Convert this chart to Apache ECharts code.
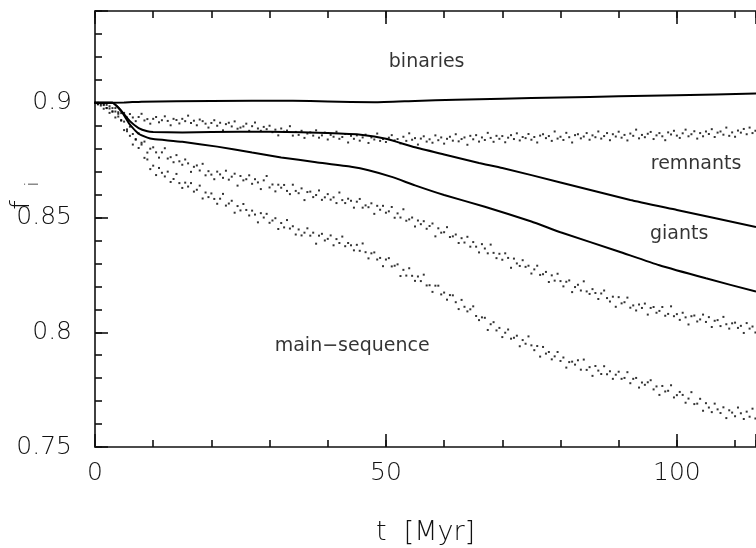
<!DOCTYPE html>
<html>
<head>
<meta charset="utf-8">
<script src="https://cdn.jsdelivr.net/npm/echarts@6/dist/echarts.min.js"></script>
<style>
html,body{margin:0;padding:0;background:#fff;}
#chart{width:756px;height:548px;}
</style>
</head>
<body>
<div id="chart"></div>
<script>
// ---------------- data ----------------
// solid curves
const binT = [0, 5, 8, 20, 34, 40, 48, 55, 62, 70, 80, 90, 100, 113.6];
const binF = [0.9, 0.9001, 0.9005, 0.9008, 0.9009, 0.9006, 0.9002, 0.9008, 0.9013, 0.9018, 0.9023, 0.9028, 0.9033, 0.9040];

const remT = [0, 3, 4.5, 6, 7.5, 9, 10, 15, 20, 30, 40, 46, 50, 55, 60, 66, 70, 80, 92, 100, 113.6];
const remF = [0.9, 0.9, 0.8965, 0.892, 0.889, 0.8876, 0.8873, 0.8871, 0.8873, 0.8874, 0.8868, 0.886, 0.8843, 0.8806, 0.8775, 0.8738, 0.8716, 0.8653, 0.8576, 0.8533, 0.8459];

const giaT = [0, 3, 4.5, 6, 7.5, 9, 10, 15, 21, 27, 32, 38, 44, 47, 51, 55, 60, 67, 75, 80, 90, 97, 105, 113.6];
const giaF = [0.9, 0.9, 0.8965, 0.8905, 0.8865, 0.8848, 0.8842, 0.8830, 0.8809, 0.8783, 0.8762, 0.8741, 0.8721, 0.8706, 0.8677, 0.8640, 0.8598, 0.8547, 0.8483, 0.8436, 0.8352, 0.8292, 0.8235, 0.8177];

// dotted (sampled) curves, times in Myr
const dotT = [
0,0.5,1,1.5,2,2.5,3,3.5,4,4.5,
5,5.5,6,6.5,7,7.5,8,8.5,9,9.5,
10,10.5,11,11.5,12,12.5,13,13.5,14,14.5,
15,15.5,16,16.5,17,17.5,18,18.5,19,19.5,
20,20.5,21,21.5,22,22.5,23,23.5,24,24.5,
25,25.5,26,26.5,27,27.5,28,28.5,29,29.5,
30,30.5,31,31.5,32,32.5,33,33.5,34,34.5,
35,35.5,36,36.5,37,37.5,38,38.5,39,39.5,
40,40.5,41,41.5,42,42.5,43,43.5,44,44.5,
45,45.5,46,46.5,47,47.5,48,48.5,49,49.5,
50,50.5,51,51.5,52,52.5,53,53.5,54,54.5,
55,55.5,56,56.5,57,57.5,58,58.5,59,59.5,
60,60.5,61,61.5,62,62.5,63,63.5,64,64.5,
65,65.5,66,66.5,67,67.5,68,68.5,69,69.5,
70,70.5,71,71.5,72,72.5,73,73.5,74,74.5,
75,75.5,76,76.5,77,77.5,78,78.5,79,79.5,
80,80.5,81,81.5,82,82.5,83,83.5,84,84.5,
85,85.5,86,86.5,87,87.5,88,88.5,89,89.5,
90,90.5,91,91.5,92,92.5,93,93.5,94,94.5,
95,95.5,96,96.5,97,97.5,98,98.5,99,99.5,
100,100.5,101,101.5,102,102.5,103,103.5,104,104.5,
105,105.5,106,106.5,107,107.5,108,108.5,109,109.5,
110,110.5,111,111.5,112,112.5,113,113.5
];

const dotsA = [
0.9000,0.8995,0.8999,0.8990,0.8991,0.8975,0.8977,0.8977,0.8952,0.8955,
0.8956,0.8936,0.8951,0.8936,0.8920,0.8938,0.8952,0.8923,0.8929,0.8909,
0.8930,0.8938,0.8915,0.8924,0.8941,0.8921,0.8902,0.8930,0.8925,0.8910,
0.8930,0.8920,0.8944,0.8912,0.8922,0.8902,0.8927,0.8920,0.8909,0.8892,
0.8912,0.8924,0.8900,0.8913,0.8880,0.8907,0.8913,0.8897,0.8919,0.8887,
0.8892,0.8897,0.8909,0.8878,0.8898,0.8914,0.8888,0.8878,0.8895,0.8885,
0.8900,0.8872,0.8883,0.8858,0.8888,0.8874,0.8879,0.8898,0.8857,0.8873,
0.8860,0.8878,0.8847,0.8866,0.8871,0.8857,0.8880,0.8848,0.8858,0.8870,
0.8840,0.8860,0.8852,0.8874,0.8843,0.8851,0.8864,0.8827,0.8856,0.8843,
0.8858,0.8835,0.8849,0.8861,0.8825,0.8849,0.8840,0.8866,0.8834,0.8842,
0.8829,0.8848,0.8859,0.8836,0.8842,0.8823,0.8852,0.8834,0.8867,0.8839,
0.8846,0.8818,0.8844,0.8854,0.8831,0.8841,0.8826,0.8858,0.8837,0.8849,
0.8822,0.8843,0.8852,0.8835,0.8863,0.8832,0.8842,0.8849,0.8817,0.8856,
0.8841,0.8859,0.8831,0.8849,0.8838,0.8869,0.8847,0.8830,0.8856,0.8843,
0.8855,0.8828,0.8848,0.8859,0.8842,0.8867,0.8836,0.8851,0.8846,0.8864,
0.8839,0.8851,0.8827,0.8857,0.8863,0.8846,0.8855,0.8834,0.8875,0.8844,
0.8852,0.8838,0.8869,0.8850,0.8827,0.8859,0.8863,0.8845,0.8853,0.8868,
0.8839,0.8858,0.8850,0.8875,0.8844,0.8855,0.8868,0.8837,0.8863,0.8853,
0.8874,0.8848,0.8860,0.8836,0.8866,0.8856,0.8883,0.8845,0.8860,0.8850,
0.8865,0.8873,0.8842,0.8858,0.8868,0.8854,0.8837,0.8871,0.8862,0.8878,
0.8857,0.8847,0.8867,0.8883,0.8854,0.8863,0.8876,0.8844,0.8868,0.8854,
0.8875,0.8864,0.8885,0.8851,0.8870,0.8875,0.8861,0.8892,0.8856,0.8871,
0.8852,0.8879,0.8870,0.8886,0.8863,0.8892,0.8868,0.8878
];

const dotsB = [
0.9000,0.9000,0.8988,0.8993,0.8977,0.8985,0.8961,0.8962,0.8959,0.8922,
0.8918,0.8876,0.8896,0.8864,0.8839,0.8867,0.8826,0.8831,0.8783,0.8800,
0.8806,0.8784,0.8761,0.8784,0.8802,0.8757,0.8763,0.8741,0.8772,0.8745,
0.8730,0.8753,0.8736,0.8699,0.8721,0.8727,0.8705,0.8734,0.8684,0.8702,
0.8687,0.8667,0.8700,0.8688,0.8673,0.8704,0.8665,0.8678,0.8691,0.8639,
0.8681,0.8662,0.8667,0.8684,0.8647,0.8667,0.8653,0.8624,0.8662,0.8681,
0.8631,0.8644,0.8614,0.8643,0.8630,0.8642,0.8616,0.8602,0.8643,0.8616,
0.8606,0.8627,0.8576,0.8611,0.8613,0.8589,0.8598,0.8618,0.8577,0.8588,
0.8602,0.8578,0.8588,0.8563,0.8609,0.8576,0.8563,0.8582,0.8573,0.8543,
0.8569,0.8581,0.8543,0.8553,0.8545,0.8562,0.8516,0.8551,0.8534,0.8551,
0.8521,0.8527,0.8546,0.8499,0.8518,0.8500,0.8536,0.8486,0.8492,0.8500,
0.8461,0.8487,0.8471,0.8484,0.8451,0.8463,0.8474,0.8418,0.8453,0.8434,
0.8436,0.8458,0.8415,0.8418,0.8426,0.8389,0.8410,0.8391,0.8416,0.8373,
0.8393,0.8373,0.8348,0.8384,0.8365,0.8344,0.8382,0.8346,0.8323,0.8342,
0.8316,0.8344,0.8324,0.8281,0.8321,0.8300,0.8289,0.8314,0.8285,0.8290,
0.8256,0.8274,0.8290,0.8250,0.8253,0.8263,0.8219,0.8248,0.8225,0.8255,
0.8223,0.8200,0.8220,0.8226,0.8175,0.8197,0.8207,0.8182,0.8222,0.8178,
0.8167,0.8188,0.8171,0.8145,0.8169,0.8182,0.8149,0.8134,0.8155,0.8111,
0.8153,0.8126,0.8131,0.8151,0.8107,0.8117,0.8095,0.8121,0.8106,0.8125,
0.8077,0.8106,0.8110,0.8085,0.8093,0.8110,0.8072,0.8080,0.8113,0.8070,
0.8079,0.8054,0.8085,0.8065,0.8034,0.8070,0.8073,0.8047,0.8056,0.8077,
0.8045,0.8066,0.8023,0.8050,0.8053,0.8027,0.8067,0.8035,0.8016,0.8039,
0.8042,0.8019,0.8028,0.7997,0.8040,0.8016,0.8025,0.7999
];

const dotsC = [
0.9000,0.8993,0.8994,0.8974,0.8977,0.8956,0.8963,0.8936,0.8940,0.8925,
0.8881,0.8884,0.8856,0.8818,0.8842,0.8803,0.8818,0.8760,0.8753,0.8711,
0.8726,0.8685,0.8716,0.8695,0.8679,0.8700,0.8655,0.8668,0.8690,0.8650,
0.8629,0.8652,0.8635,0.8650,0.8613,0.8621,0.8639,0.8583,0.8609,0.8589,
0.8605,0.8581,0.8560,0.8582,0.8603,0.8552,0.8561,0.8573,0.8521,0.8550,
0.8531,0.8559,0.8533,0.8509,0.8530,0.8513,0.8479,0.8519,0.8500,0.8516,
0.8477,0.8487,0.8497,0.8450,0.8476,0.8457,0.8489,0.8452,0.8462,0.8426,
0.8448,0.8422,0.8434,0.8453,0.8421,0.8434,0.8386,0.8421,0.8429,0.8400,
0.8407,0.8422,0.8379,0.8406,0.8389,0.8417,0.8375,0.8389,0.8379,0.8357,
0.8381,0.8355,0.8387,0.8349,0.8322,0.8344,0.8348,0.8317,0.8324,0.8288,
0.8317,0.8323,0.8287,0.8290,0.8296,0.8245,0.8272,0.8247,0.8279,0.8246,
0.8224,0.8243,0.8223,0.8251,0.8204,0.8205,0.8176,0.8203,0.8203,0.8165,
0.8173,0.8142,0.8162,0.8161,0.8131,0.8101,0.8141,0.8111,0.8091,0.8100,
0.8113,0.8071,0.8053,0.8065,0.8063,0.8010,0.8035,0.8044,0.8008,0.8019,
0.7979,0.7998,0.8012,0.7972,0.7976,0.7985,0.7939,0.7966,0.7950,0.7982,
0.7943,0.7922,0.7940,0.7894,0.7936,0.7907,0.7914,0.7882,0.7895,0.7914,
0.7875,0.7890,0.7846,0.7870,0.7872,0.7859,0.7878,0.7837,0.7881,0.7836,
0.7848,0.7810,0.7853,0.7833,0.7818,0.7852,0.7817,0.7830,0.7797,0.7815,
0.7828,0.7797,0.7801,0.7826,0.7778,0.7797,0.7801,0.7759,0.7781,0.7771,
0.7782,0.7791,0.7751,0.7764,0.7727,0.7766,0.7742,0.7745,0.7769,0.7716,
0.7726,0.7740,0.7727,0.7693,0.7711,0.7739,0.7687,0.7689,0.7710,0.7658,
0.7691,0.7672,0.7652,0.7689,0.7664,0.7648,0.7673,0.7626,0.7660,0.7650,
0.7634,0.7672,0.7647,0.7622,0.7654,0.7632,0.7667,0.7624
];

// curve annotations (text, t, f)
const noteText = ['binaries', 'remnants', 'giants', 'main\u2212sequence'];
const noteT = [57.0, 103.3, 100.4, 44.2];
const noteF = [0.9178, 0.8733, 0.8428, 0.7940];

// axes
const xMin = 0, xMax = 113.6, xMinorStep = 10, xMajorStep = 50;
const yMin = 0.75, yMax = 0.94, yMinorStep = 0.01, yMajorStep = 0.05;
const xTitle = 't  [Myr]';
const yTitleMain = 'f', yTitleSub = 'i';

// ---------------- chart ----------------
const FONT = '"DejaVu Sans", "Liberation Sans", sans-serif';
const INK = '#111';
const chart = echarts.init(document.getElementById('chart'), null, {renderer: 'canvas'});

const pair = (ts, fs) => ts.map((t, i) => [t, fs[i]]);

function xAx(pos, step, len, showLine, showLabel, name) {
  return {
    type: 'value', position: pos, min: xMin, max: xMax, interval: step,
    axisLine: {show: showLine, onZero: false, lineStyle: {color: INK, width: 1.6}},
    axisTick: {show: true, inside: true, length: len, lineStyle: {color: INK, width: 1.6}},
    axisLabel: {show: showLabel, margin: 14, fontSize: 25, color: INK, fontFamily: FONT, fontWeight: 300,
      formatter: v => (Math.abs(v % xMajorStep) < 1e-6 ? String(v) : '')},
    splitLine: {show: false},
    name: name || '', nameLocation: 'middle', nameGap: 72,
    nameTextStyle: {fontSize: 27, color: INK, fontFamily: FONT, fontWeight: 300}
  };
}
function yAx(step, len, showLine, showLabel) {
  return {
    type: 'value', position: 'left', min: yMin, max: yMax, interval: step,
    axisLine: {show: showLine, onZero: false, lineStyle: {color: INK, width: 1.6}},
    axisTick: {show: true, inside: true, length: len, lineStyle: {color: INK, width: 1.6}},
    axisLabel: {show: showLabel, margin: 23, fontSize: 25, color: INK, fontFamily: FONT, fontWeight: 300,
      formatter: v => (Math.round(v * 1000) % Math.round(yMajorStep * 1000) === 0 ? String(+v.toFixed(2)) : '')},
    splitLine: {show: false}
  };
}

const dotSeries = (name, vals) => ({
  name, type: 'scatter', xAxisIndex: 0, yAxisIndex: 0,
  data: pair(dotT, vals), symbol: 'rect', symbolSize: 2,
  itemStyle: {color: '#000'}, silent: true, large: false
});
const lineSeries = (name, ts, fs) => ({
  name, type: 'line', xAxisIndex: 0, yAxisIndex: 0,
  data: pair(ts, fs), showSymbol: false, smooth: 0.15,
  lineStyle: {color: '#000', width: 2}, silent: true
});

chart.setOption({
  animation: false,
  backgroundColor: '#fff',
  textStyle: {fontFamily: FONT},
  grid: {left: 95, top: 11, right: 0, height: 436, containLabel: false, outerBoundsMode: 'none'},
  xAxis: [
    xAx('bottom', xMinorStep, 7, true, true, xTitle),
    xAx('bottom', xMajorStep, 13, false, false),
    xAx('top', xMinorStep, 7, true, false),
    xAx('top', xMajorStep, 13, false, false)
  ],
  yAxis: [
    yAx(yMinorStep, 7, true, true),
    yAx(yMajorStep, 13, false, false)
  ],
  series: [
    dotSeries('dots upper', dotsA),
    dotSeries('dots middle', dotsB),
    dotSeries('dots lower', dotsC),
    lineSeries('binaries', binT, binF),
    lineSeries('upper solid', remT, remF),
    lineSeries('lower solid', giaT, giaF),
    {
      name: 'notes', type: 'scatter', xAxisIndex: 0, yAxisIndex: 0,
      symbolSize: 1, itemStyle: {color: 'rgba(0,0,0,0)'}, silent: true,
      data: noteText.map((s, i) => ({name: s, value: [noteT[i], noteF[i]]})),
      label: {show: true, position: 'inside', formatter: '{b}', fontSize: 19, color: '#000',
        fontFamily: FONT, fontWeight: 'normal'}
    }
  ],
  graphic: [
    {type: 'text', x: 22, y: 205, rotation: Math.PI / 2,
      style: {text: yTitleMain, fontSize: 27, fill: INK, fontFamily: FONT, fontWeight: 300,
        align: 'center', verticalAlign: 'middle'}},
    {type: 'text', x: 33, y: 184, rotation: Math.PI / 2,
      style: {text: yTitleSub, fontSize: 18, fill: INK, fontFamily: FONT, fontWeight: 300,
        align: 'center', verticalAlign: 'middle'}}
  ]
});
</script>
</body>
</html>
